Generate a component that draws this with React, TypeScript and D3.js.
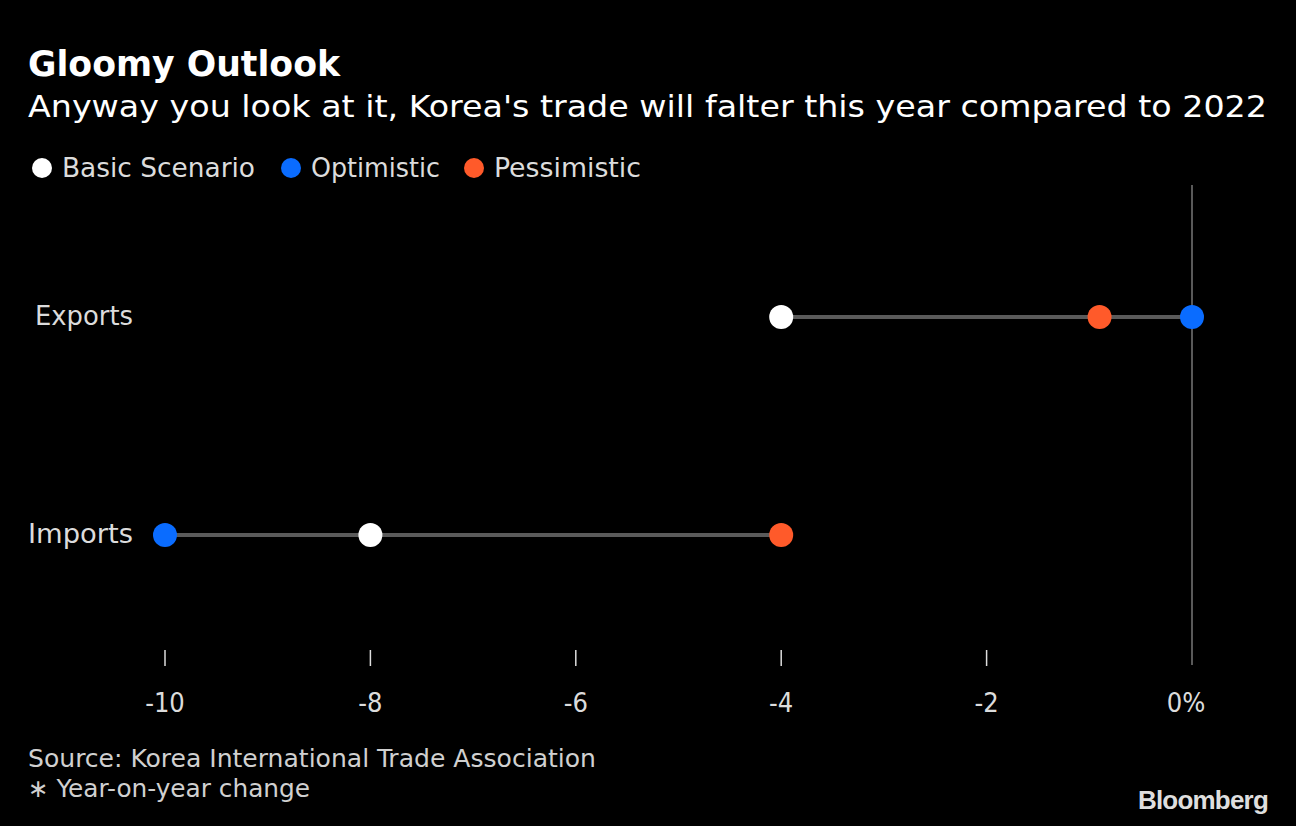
import React from "react";
import * as d3 from "d3";

const categories = ["Exports", "Imports"];
const basic = [-4, -8];
const optimistic = [0, -10];
const pessimistic = [-0.9, -4];
const xTicks = [-10, -8, -6, -4, -2, 0];
const seriesNames = ["Basic Scenario", "Optimistic", "Pessimistic"];
const seriesColors = ["#ffffff", "#0a6cff", "#ff5a2a"];

const W = 1296;
const H = 826;
const FONT = "'DejaVu Sans Condensed', 'DejaVu Sans', sans-serif";

export default function App() {
  const x = d3.scaleLinear().domain([-10, 0]).range([165, 1192]);
  const y = d3.scalePoint<string>().domain(categories).range([317, 535]);
  const series = [basic, optimistic, pessimistic];

  const legendX = [42, 291, 474];
  const legendLen = [193, 129, 147];
  const catLen = [98, 105];

  return (
    <svg width={W} height={H} style={{ position: "absolute", left: 0, top: 0, background: "#000" }}>
      <rect x={0} y={0} width={W} height={H} fill="#000" />
      <text x={28} y={76} fill="#fff" fontFamily={FONT} fontWeight="bold" fontSize={35} textLength={312} lengthAdjust="spacingAndGlyphs">
        Gloomy Outlook
      </text>
      <text x={28} y={117} fill="#fff" fontFamily={FONT} fontSize={31} textLength={1239} lengthAdjust="spacingAndGlyphs">
        Anyway you look at it, Korea's trade will falter this year compared to 2022
      </text>
      {seriesNames.map((n, i) => (
        <g key={n}>
          <circle cx={legendX[i]} cy={168} r={10} fill={seriesColors[i]} />
          <text x={legendX[i] + 20} y={177} fill="#dcdcdc" fontFamily={FONT} fontSize={27} textLength={legendLen[i]} lengthAdjust="spacingAndGlyphs">
            {n}
          </text>
        </g>
      ))}

      <line x1={x(0)} x2={x(0)} y1={185} y2={665} stroke="#777" strokeWidth={1.5} />

      {categories.map((c, i) => {
        const vals = series.map((s) => s[i]);
        const lo = d3.min(vals)!;
        const hi = d3.max(vals)!;
        return (
          <g key={c}>
            <text x={133} y={y(c)! + 8} textAnchor="end" fill="#dcdcdc" fontFamily={FONT} fontSize={27} textLength={catLen[i]} lengthAdjust="spacingAndGlyphs">
              {c}
            </text>
            <line x1={x(lo)} x2={x(hi)} y1={y(c)} y2={y(c)} stroke="#5a5a5a" strokeWidth={4} />
            {series.map((s, j) => (
              <circle key={j} cx={x(s[i])} cy={y(c)} r={12} fill={seriesColors[j]} />
            ))}
          </g>
        );
      })}

      {xTicks.map((t) => (
        <g key={t}>
          {t !== 0 && <line x1={x(t)} x2={x(t)} y1={650} y2={666} stroke="#ddd" strokeWidth={1.5} />}
          <text x={t === 0 ? x(t) - 6 : x(t)} y={712} textAnchor="middle" fill="#dcdcdc" fontFamily={FONT} fontSize={27}>
            {t === 0 ? "0%" : t}
          </text>
        </g>
      ))}

      <text x={28} y={767} fill="#d0d0d0" fontFamily={FONT} fontSize={25} textLength={568} lengthAdjust="spacingAndGlyphs">
        Source: Korea International Trade Association
      </text>
      <text x={28} y={797} fill="#d0d0d0" fontFamily={FONT} fontSize={25} textLength={282} lengthAdjust="spacingAndGlyphs">
        ∗ Year-on-year change
      </text>
      <text x={1268} y={809} textAnchor="end" fill="#dedede" fontFamily="'Liberation Sans', Arial, sans-serif" fontWeight="bold" fontSize={26} letterSpacing={-0.8}>
        Bloomberg
      </text>
    </svg>
  );
}
